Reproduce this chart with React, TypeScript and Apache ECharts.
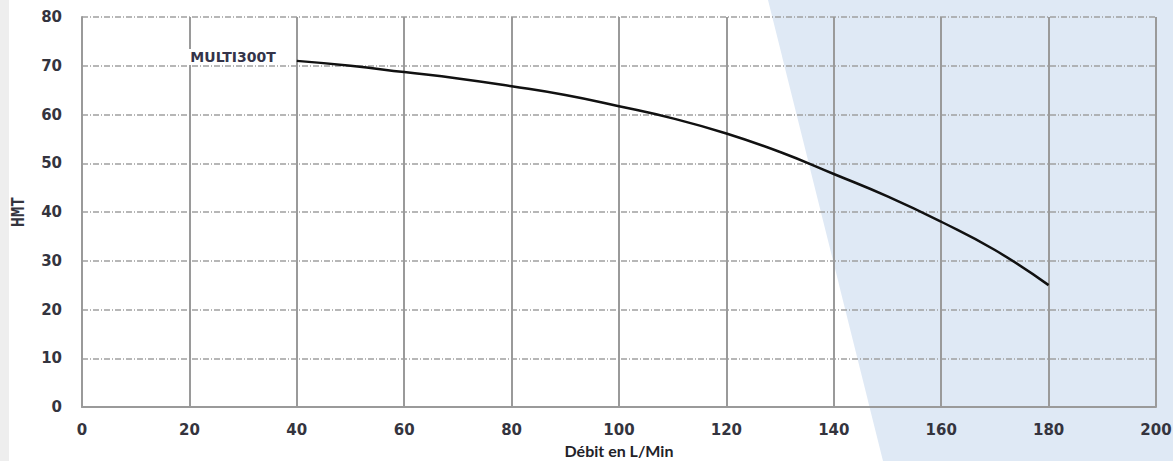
import React, { useEffect, useRef } from "react";
import * as echarts from "echarts";

const flow = [40, 50, 60, 70, 80, 90, 100, 110, 120, 130, 140, 150, 160, 170, 180];
const head = [71, 70, 68.7, 67.4, 65.8, 64, 61.7, 59.2, 56.1, 52.3, 47.8, 43.2, 38, 32.2, 25];
const seriesName = "MULTI300T";
const xTitle = "Débit en L/Min";
const yTitle = "HMT";

export default function App() {
  const ref = useRef<HTMLDivElement>(null);
  useEffect(() => {
    if (!ref.current) return;
    const chart = echarts.init(ref.current, null, { renderer: "svg" });
    const data = flow.map((x, i) => [x, head[i]]);
    const textColor = "#34343e";
    const tickFont = { fontFamily: "DejaVu Sans", fontWeight: "bold", fontSize: 15, color: textColor };
    chart.setOption({
      animation: false,
      backgroundColor: "#ffffff",
      graphic: [
        {
          type: "rect",
          z: -10,
          silent: true,
          shape: { x: 0, y: 0, width: 9, height: 461 },
          style: { fill: "#eeeeee" },
        },
        {
          type: "polygon",
          z: -10,
          silent: true,
          shape: { points: [[768, 0], [1173, 0], [1173, 461], [883, 461]] },
          style: { fill: "#dfe9f5" },
        },
      ],
      grid: {
        left: 82,
        right: 17,
        top: 17,
        bottom: 54,
        containLabel: false,
        outerBoundsMode: "none",
      },
      xAxis: {
        type: "value",
        min: 0,
        max: 200,
        interval: 20,
        name: xTitle,
        nameLocation: "middle",
        nameGap: 35,
        nameTextStyle: { fontFamily: "Lato", fontWeight: "bold", fontSize: 16, lineHeight: 17, color: "#222228" },
        axisLine: { show: true, lineStyle: { color: "#9a9a9a", width: 2 } },
        axisTick: { show: false },
        axisLabel: { ...tickFont, margin: 15 },
        splitLine: { show: true, lineStyle: { color: "#9a9a9a", width: 2, type: "solid" } },
      },
      yAxis: {
        type: "value",
        min: 0,
        max: 80,
        interval: 10,
        name: yTitle,
        nameLocation: "middle",
        nameGap: 56,
        nameRotate: 90,
        nameTextStyle: { fontFamily: "DejaVu Sans Mono", fontWeight: "bold", fontSize: 17, color: textColor },
        axisLine: { show: true, lineStyle: { color: "#9a9a9a", width: 2 } },
        axisTick: { show: false },
        axisLabel: { ...tickFont, margin: 20 },
        splitLine: { show: true, lineStyle: { color: "#a0a0a0", width: 1.5, type: [6, 2, 1, 2] } },
      },
      series: [
        {
          type: "line",
          name: seriesName,
          data,
          smooth: true,
          showSymbol: false,
          symbol: "none",
          lineStyle: { color: "#111111", width: 2.5 },
          z: 3,
        },
        {
          type: "scatter",
          name: seriesName + " label",
          data: [data[0]],
          symbolSize: 0,
          itemStyle: { opacity: 1 },
          z: 4,
          label: {
            show: true,
            position: "left",
            distance: 19,
            offset: [0, -4],
            formatter: seriesName,
            fontFamily: "DejaVu Sans",
            fontWeight: "bold",
            fontSize: 14,
            color: "#34344a",
            backgroundColor: "#ffffff",
            padding: [1, 2],
          },
        },
      ],
    });
    return () => chart.dispose();
  }, []);
  return (
    <div
      ref={ref}
      style={{ position: "absolute", left: 0, top: 0, width: 1173, height: 461 }}
    />
  );
}
